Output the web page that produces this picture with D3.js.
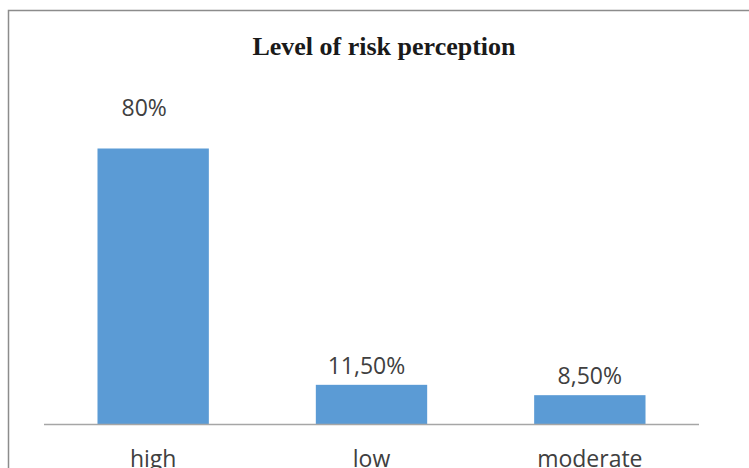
<!DOCTYPE html>
<html>
<head>
<meta charset="utf-8">
<script src="https://cdn.jsdelivr.net/npm/d3@7"></script>
<style>
  html, body { margin: 0; padding: 0; background: #ffffff; overflow: hidden; }
  svg { display: block; }
</style>
</head>
<body>
<script>
const categories = ["high", "low", "moderate"];
const values = [80, 11.5, 8.5];
const valueLabels = ["80%", "11,50%", "8,50%"];
const chartTitle = "Level of risk perception";

const W = 749, H = 468;
const svg = d3.select("body").append("svg").attr("width", W).attr("height", H);

// outer chart border (only top and left visible in frame)
svg.append("path")
  .attr("d", "M8.5,468 L8.5,10.5 L749,10.5")
  .attr("fill", "none")
  .attr("stroke", "#8c8c8c")
  .attr("stroke-width", 1.5);

const x = d3.scaleBand().domain(categories).range([44, 699]).paddingInner(0.49).paddingOuter(0.245);
const y = d3.scaleLinear().domain([0, 90]).range([424.5, 114]);

svg.append("text")
  .attr("x", 384).attr("y", 55)
  .attr("text-anchor", "middle")
  .attr("font-family", "'Liberation Serif', serif")
  .attr("font-weight", "bold")
  .attr("font-size", 26)
  .attr("fill", "#1a1a1a")
  .text(chartTitle);

svg.selectAll("rect.bar").data(values).join("rect")
  .attr("class", "bar")
  .attr("x", (d, i) => x(categories[i]))
  .attr("width", x.bandwidth())
  .attr("y", d => y(d))
  .attr("height", d => y(0) - y(d))
  .attr("fill", "#5b9bd5");

// label layout: the tallest bar's label sits higher, with a slight left nudge
const labelY = (d, i) => y(d) - (i === 0 ? 33 : 11);
const labelDx = i => (i === 0 ? -9 : i === 1 ? -5 : 0);

svg.selectAll("text.vl").data(values).join("text")
  .attr("class", "vl")
  .attr("x", (d, i) => x(categories[i]) + x.bandwidth() / 2 + labelDx(i))
  .attr("y", (d, i) => labelY(d, i))
  .attr("text-anchor", "middle")
  .attr("font-family", "'Open Sans', sans-serif")
  .attr("font-size", 23)
  .attr("fill", "#404040")
  .text((d, i) => valueLabels[i]);

const xAxis = d3.axisBottom(x).tickSize(0).tickPadding(26);
const gx = svg.append("g").attr("transform", `translate(0,${y(0)})`).call(xAxis);
gx.select(".domain").attr("stroke", "#a6a6a6").attr("stroke-width", 1.5).attr("d", "M44,0H699");
gx.selectAll("text")
  .attr("font-family", "'Open Sans', sans-serif")
  .attr("font-size", 23)
  .attr("fill", "#404040");
</script>
</body>
</html>
